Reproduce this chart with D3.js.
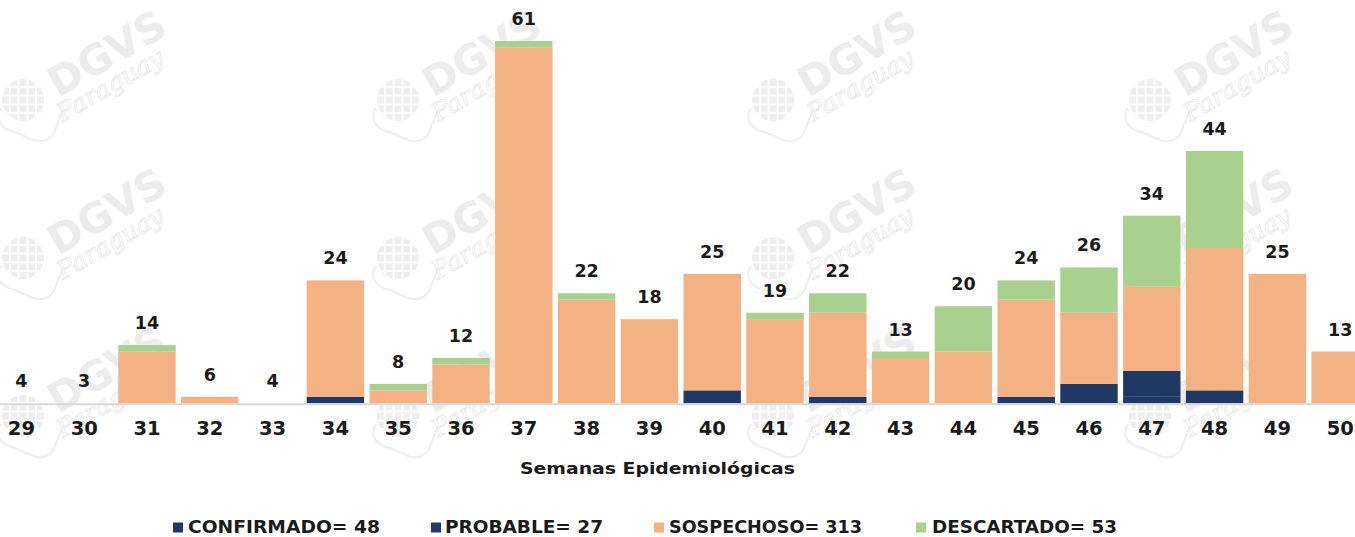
<!DOCTYPE html>
<html>
<head>
<meta charset="utf-8">
<script src="https://cdn.jsdelivr.net/npm/d3@7"></script>
<style>
  html, body { margin: 0; padding: 0; background: #ffffff; }
  svg { display: block; }
</style>
</head>
<body>
<svg id="chart" width="1355" height="537"></svg>
<script>
// ---------------- DATA ----------------
const weeks = ["29","30","31","32","33","34","35","36","37","38","39","40","41","42","43","44","45","46","47","48","49","50"];
const confirmado = [3,2,2,2,3,4,2,1,2,1,0,4,0,4,0,0,3,5,6,4,0,0];
const probable   = [1,1,1,1,1,2,0,1,0,1,0,3,0,2,0,0,3,3,4,3,0,0];
const sospechoso = [0,0,10,3,0,18,5,9,58,19,18,18,18,13,12,13,15,11,13,22,25,13];
const descartado = [0,0,1,0,0,0,1,1,1,1,0,0,1,3,1,7,3,7,11,15,0,0];
const seriesNames = ["CONFIRMADO","PROBABLE","SOSPECHOSO","DESCARTADO"];
const axisTitle = "Semanas Epidemiológicas";
const axisMin = 5;   // value axis starts at 5
const axisMax = 61;

// ---------------- STYLE ----------------
const colors = {CONFIRMADO:"#203864", PROBABLE:"#203864", SOSPECHOSO:"#F4B183", DESCARTADO:"#A9D18E"};
const FONT = "'DejaVu Sans', 'Open Sans', sans-serif";

const svg = d3.select("#chart");
const W = 1355, H = 537;
const baseY = 403.3;

const rows = weeks.map((w, i) => ({
  week: w,
  CONFIRMADO: confirmado[i],
  PROBABLE: probable[i],
  SOSPECHOSO: sospechoso[i],
  DESCARTADO: descartado[i],
  total: confirmado[i] + probable[i] + sospechoso[i] + descartado[i]
}));

const x = d3.scaleBand().domain(weeks).range([-10, 1371.6]).paddingInner(0.086).paddingOuter(0.043);
const y = d3.scaleLinear().domain([axisMin, axisMax]).range([baseY, baseY - (axisMax - axisMin) * 6.47]);

// ---------------- WATERMARK ----------------
const wm = svg.append("g").attr("class", "watermark");
const wmCols = [23, 398, 773, 1150];
const wmRows = [100, 258, 416];
wmRows.forEach(gy => wmCols.forEach(gx => {
  const g = wm.append("g").attr("transform", `translate(${gx},${gy})`);
  g.append("circle").attr("r", 21).attr("fill", "#efefef");
  [-13, -4.5, 4.5, 13].forEach(o => {
    g.append("line").attr("x1", o).attr("x2", o).attr("y1", -21).attr("y2", 21).attr("stroke", "#fcfcfc").attr("stroke-width", 2);
    g.append("line").attr("y1", o).attr("y2", o).attr("x1", -21).attr("x2", 21).attr("stroke", "#fcfcfc").attr("stroke-width", 2);
  });
  g.append("path")
    .attr("d", "M-22,8 C-30,20 -20,30 -8,32 L10,40 C20,44 30,38 32,30 L40,10")
    .attr("fill", "none").attr("stroke", "#eeeeee").attr("stroke-width", 2);
  g.append("text").attr("transform", "translate(35,-2) rotate(-30)")
    .attr("font-family", FONT).attr("font-weight", "bold").attr("font-size", 41)
    .attr("fill", "#ececec").text("DGVS");
  g.append("text").attr("transform", "translate(40,22) rotate(-30)")
    .attr("font-family", "'DejaVu Serif', serif").attr("font-style", "italic").attr("font-size", 25)
    .attr("fill", "none").attr("stroke", "#ebebeb").attr("stroke-width", 0.9).text("Paraguay");
}));

// ---------------- BARS ----------------
const stack = d3.stack().keys(seriesNames)(rows);
const layers = svg.append("g").attr("class", "bars");
stack.forEach(layer => {
  const key = layer.key;
  layers.append("g").attr("fill", colors[key])
    .selectAll("rect")
    .data(layer.filter(d => d[1] > axisMin && d[1] > d[0]))
    .join("rect")
    .attr("x", d => x(d.data.week))
    .attr("width", x.bandwidth())
    .attr("y", d => y(Math.max(d[1], axisMin)))
    .attr("height", d => y(Math.max(d[0], axisMin)) - y(Math.max(d[1], axisMin)));
});

// ---------------- AXIS ----------------
svg.append("line").attr("x1", 0).attr("x2", W).attr("y1", 404.3).attr("y2", 404.3)
  .attr("stroke", "#d9d9d9").attr("stroke-width", 2);

const xAxis = svg.append("g").attr("transform", `translate(0,${baseY})`)
  .call(d3.axisBottom(x).tickSize(0).tickSizeOuter(0));
xAxis.select(".domain").remove();
xAxis.selectAll("text")
  .attr("y", 31.7).attr("dy", 0)
  .attr("font-family", FONT).attr("font-weight", "bold").attr("font-size", 19.5)
  .attr("fill", "#1a1a1a");

svg.append("text").attr("x", 657.5).attr("y", 474.3).attr("text-anchor", "middle")
  .attr("font-family", FONT).attr("font-weight", "bold").attr("font-size", 16.5)
  .attr("textLength", 275).attr("lengthAdjust", "spacingAndGlyphs")
  .attr("fill", "#1a1a1a").text(axisTitle);

// ---------------- VALUE LABELS ----------------
svg.append("g").selectAll("text").data(rows).join("text")
  .attr("x", d => x(d.week) + x.bandwidth() / 2)
  .attr("y", d => y(Math.max(d.total, axisMin)) - 16)
  .attr("text-anchor", "middle")
  .attr("font-family", FONT).attr("font-weight", "bold").attr("font-size", 17.5)
  .attr("fill", "#1a1a1a")
  .text(d => d.total);

// ---------------- LEGEND ----------------
const legendItems = [
  {name: "CONFIRMADO", total: d3.sum(confirmado), sx: 173, tx: 188, tl: 192},
  {name: "PROBABLE",   total: d3.sum(probable),   sx: 431, tx: 445, tl: 158},
  {name: "SOSPECHOSO", total: d3.sum(sospechoso), sx: 654, tx: 669, tl: 193},
  {name: "DESCARTADO", total: d3.sum(descartado), sx: 916, tx: 932, tl: 185}
];
const lg = svg.append("g");
lg.selectAll("rect").data(legendItems).join("rect")
  .attr("x", d => d.sx).attr("y", 522.5).attr("width", 10).attr("height", 10)
  .attr("fill", d => colors[d.name]);
lg.selectAll("text").data(legendItems).join("text")
  .attr("x", d => d.tx).attr("y", 533.3)
  .attr("font-family", FONT).attr("font-weight", "bold").attr("font-size", 18.5)
  .attr("textLength", d => d.tl).attr("lengthAdjust", "spacingAndGlyphs")
  .attr("fill", "#1a1a1a")
  .text(d => `${d.name}= ${d.total}`);
</script>
</body>
</html>
